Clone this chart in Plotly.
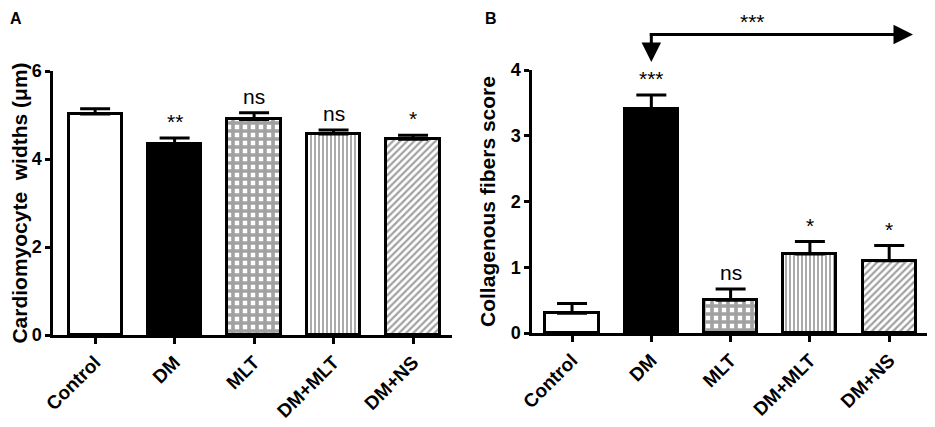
import plotly.graph_objects as go
from plotly.subplots import make_subplots

# Gruppen (x-Achse)
gruppen = ['Control', 'DM', 'MLT', 'DM+MLT', 'DM+NS']

# A: Kardiomyozytenbreite (Mittelwert, SEM, Signifikanz)
breite_mw = [5.02, 4.35, 4.90, 4.57, 4.45]
breite_sem = [0.12, 0.13, 0.15, 0.09, 0.09]
breite_sig = ['', '**', 'ns', 'ns', '*']

# B: Kollagenfaser-Score
kollagen_mw = [0.30, 3.40, 0.50, 1.20, 1.10]
kollagen_sem = [0.15, 0.22, 0.17, 0.19, 0.23]
kollagen_sig = ['', '***', 'ns', '*', '*']

# Darstellung der Gruppen (Füllfarbe + Muster)
fuellfarben = ['white', 'black', 'white', 'white', 'white']
muster = ['', '', '+', '|', '/']
muster_groesse = [8, 8, 8, 4, 5]
muster_dichte = [0.5, 0.5, 0.7, 0.45, 0.45]

FONT = 'Liberation Sans, Arial, sans-serif'
# Seite hat 8px Rand -> Figur etwas kleiner, Pixel aus der Vorlage umrechnen
RAND = 8
B_W, B_H = 935 - RAND, 427 - RAND


def px_x(p):
    return (p - RAND) / B_W


def px_y(p):
    return 1 - (p - RAND) / B_H


def balken(mw, sem):
    return go.Bar(
        x=gruppen, y=mw, width=0.67,
        marker=dict(
            color=fuellfarben,
            line=dict(color='black', width=3),
            pattern=dict(shape=muster, size=muster_groesse, solidity=muster_dichte,
                         fgcolor='black', fillmode='overlay'),
        ),
        error_y=dict(type='data', symmetric=False, array=sem, arrayminus=[0] * len(sem),
                     color='black', thickness=3, width=15),
        showlegend=False,
    )


fig = make_subplots(rows=1, cols=2)
fig.add_trace(balken(breite_mw, breite_sem), row=1, col=1)
fig.add_trace(balken(kollagen_mw, kollagen_sem), row=1, col=2)

#Achsen
achse_x = dict(type='category', showline=True, linecolor='black', linewidth=2.5,
               ticks='outside', ticklen=6, tickwidth=2.5, tickcolor='black',
               tickangle=-45, showgrid=False, zeroline=False, automargin=False,
               tickfont=dict(family=FONT, size=19, color='black', weight='bold'))
achse_y = dict(showline=True, linecolor='black', linewidth=2.5,
               ticks='outside', ticklen=5, tickwidth=2.5, tickcolor='black',
               showgrid=False, zeroline=False, automargin=False,
               tickfont=dict(family=FONT, size=18, color='black', weight='bold'))

y1_dom = [px_y(335), px_y(71)]
y2_dom = [px_y(333), px_y(70)]

fig.update_layout(
    xaxis=dict(achse_x, domain=[px_x(53), px_x(452)], range=[-0.53, 4.49]),
    yaxis=dict(achse_y, domain=y1_dom, range=[0, 6], tickvals=[0, 2, 4, 6],
               title=dict(text='Cardiomyocyte\u00a0 widths (\u03bcm)', standoff=10,
                          font=dict(family=FONT, size=21, color='black', weight='bold'))),
    xaxis2=dict(achse_x, domain=[px_x(532), px_x(932)], range=[-0.505, 4.54]),
    yaxis2=dict(achse_y, domain=y2_dom, range=[0, 4], tickvals=[0, 1, 2, 3, 4],
                title=dict(text='Collagenous fibers score', standoff=10,
                           font=dict(family=FONT, size=21, color='black', weight='bold'))),
    width=B_W, height=B_H,
    margin=dict(l=0, r=0, t=0, b=0),
    plot_bgcolor='white', paper_bgcolor='white',
    bargap=0,
)

#Signifikanzen über den Balken
for xref, yref, mw, sem, sig in [('x', 'y', breite_mw, breite_sem, breite_sig),
                                 ('x2', 'y2', kollagen_mw, kollagen_sem, kollagen_sig)]:
    for g, m, s, t in zip(gruppen, mw, sem, sig):
        if t:
            fig.add_annotation(x=g, y=m + s, xref=xref, yref=yref, text=t, showarrow=False,
                               yanchor='bottom', yshift=3,
                               font=dict(family=FONT, size=21, color='black'))

# Panelbuchstaben
fig.add_annotation(x=0, y=1, xref='paper', yref='paper', text='A',
                   showarrow=False, xanchor='left', yanchor='top',
                   font=dict(family=FONT, size=16, color='black', weight='bold'))
fig.add_annotation(x=px_x(483), y=1, xref='paper', yref='paper', text='B',
                   showarrow=False, xanchor='left', yanchor='top',
                   font=dict(family=FONT, size=16, color='black', weight='bold'))

# Pfeile DM -> Behandlungsgruppen (Höhe in Datenwerten von B, umgerechnet auf paper)
pfeil_y = 4.54
pfeil_spitze_y = 4.12
pfeil_ende_x = 4.3


def y2_paper(v):
    return y2_dom[0] + v / 4 * (y2_dom[1] - y2_dom[0])


fig.add_annotation(x=pfeil_ende_x, y=y2_paper(pfeil_y), xref='x2', yref='paper',
                   ax=0.96, axref='x2', ay=0, ayref='pixel', text='', showarrow=True,
                   arrowhead=2, arrowsize=1.3, arrowwidth=3, arrowcolor='black', standoff=0)
fig.add_annotation(x=1, y=y2_paper(pfeil_spitze_y), xref='x2', yref='paper',
                   ax=0, ay=-(y2_paper(pfeil_y) - y2_paper(pfeil_spitze_y)) * B_H,
                   text='', showarrow=True,
                   arrowhead=2, arrowsize=1.3, arrowwidth=3, arrowcolor='black', standoff=0)
fig.add_annotation(x=2.27, y=1, xref='x2', yref='paper', text='***',
                   showarrow=False, yanchor='top',
                   font=dict(family=FONT, size=21, color='black'))

fig.write_html("out.html")
